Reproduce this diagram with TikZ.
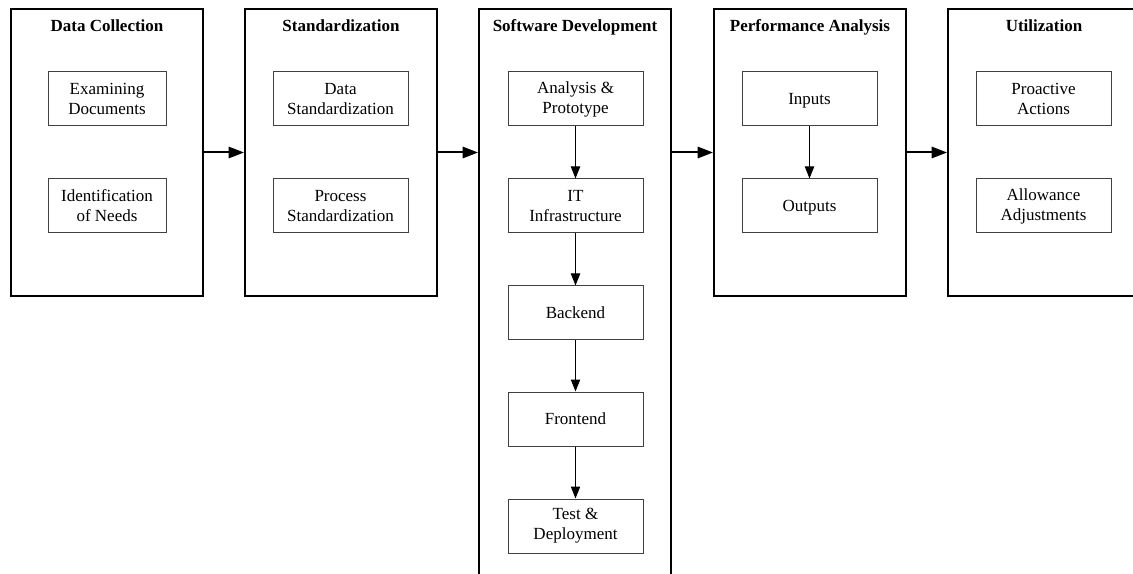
\documentclass[tikz,border=0pt]{standalone}
\usepackage{fontspec}
\setmainfont{Liberation Serif}
\usetikzlibrary{arrows.meta}
\begin{document}
\begin{tikzpicture}[x=0.75pt, y=-0.75pt]
	\tikzset{phase/.style={draw=black, line width=1.5pt, minimum width=144pt, minimum height=215.25pt, inner sep=0pt},
		tache/.style={draw=black!75, line width=0.75pt, minimum width=101.25pt, minimum height=40.5pt, inner sep=0pt, align=center, font=\fontsize{12.75}{15}\selectfont},
		titre/.style={anchor=base, font=\bfseries\fontsize{12.75}{15}\selectfont},
		fleche/.style={-{Triangle[length=11.5pt, width=8.5pt]}, line width=1.5pt},
		lien/.style={-{Triangle[length=9pt, width=7pt]}, line width=0.75pt}};

	\useasboundingbox (0,0) rectangle (1133,574);
	\clip (0,0) rectangle (1133,574);

	% phases
	\node[phase] (dc) at ( 107, 152.5) {};
	\node[phase] (st) at ( 341, 152.5) {};
	\node[phase, minimum height=443.25pt] (sw) at ( 575, 304.5) {};
	\node[phase] (pa) at ( 810, 152.5) {};
	\node[phase] (ut) at (1044, 152.5) {};

	\node[titre] (tdc) at ( 107, 31.5) {Data Collection};
	\node[titre] (tst) at ( 341, 31.5) {Standardization};
	\node[titre] (tsw) at ( 575, 31.5) {Software Development};
	\node[titre] (tpa) at ( 810, 31.5) {Performance Analysis};
	\node[titre] (tut) at (1044, 31.5) {Utilization};

	% tasks
	\node[tache, minimum width=88.5pt] (dc1) at ( 107,  99) {Examining\\Documents};
	\node[tache, minimum width=88.5pt] (dc2) at ( 107, 206) {Identification\\of Needs};

	\node[tache] (st1) at ( 340.5,  99) {Data\\Standardization};
	\node[tache] (st2) at ( 340.5, 206) {Process\\Standardization};

	\node[tache] (sw1) at ( 575.5,  99) {Analysis \&\\Prototype};
	\node[tache] (sw2) at ( 575.5, 206) {IT\\Infrastructure};
	\node[tache] (sw3) at ( 575.5, 313) {Backend};
	\node[tache] (sw4) at ( 575.5, 419) {Frontend};
	\node[tache] (sw5) at ( 575.5, 526) {Test \&\\Deployment};

	\node[tache, text depth=0pt] (pa1) at ( 809.5,  99) {Inputs};
	\node[tache, text depth=0pt] (pa2) at ( 809.5, 206) {Outputs};

	\node[tache] (ut1) at (1043.5,  99) {Proactive\\Actions};
	\node[tache] (ut2) at (1043.5, 206) {Allowance\\Adjustments};

	% arrows
	\draw[fleche] (dc.east) -- (st.west);
	\draw[fleche] (st.east) -- (st.east -| sw.west);
	\draw[fleche] (pa.west -| sw.east) -- (pa.west);
	\draw[fleche] (pa.east) -- (ut.west);

	\draw[lien] (sw1) -- (sw2);
	\draw[lien] (sw2) -- (sw3);
	\draw[lien] (sw3) -- (sw4);
	\draw[lien] (sw4) -- (sw5);
	\draw[lien] (pa1) -- (pa2);

\end{tikzpicture}
\end{document}
